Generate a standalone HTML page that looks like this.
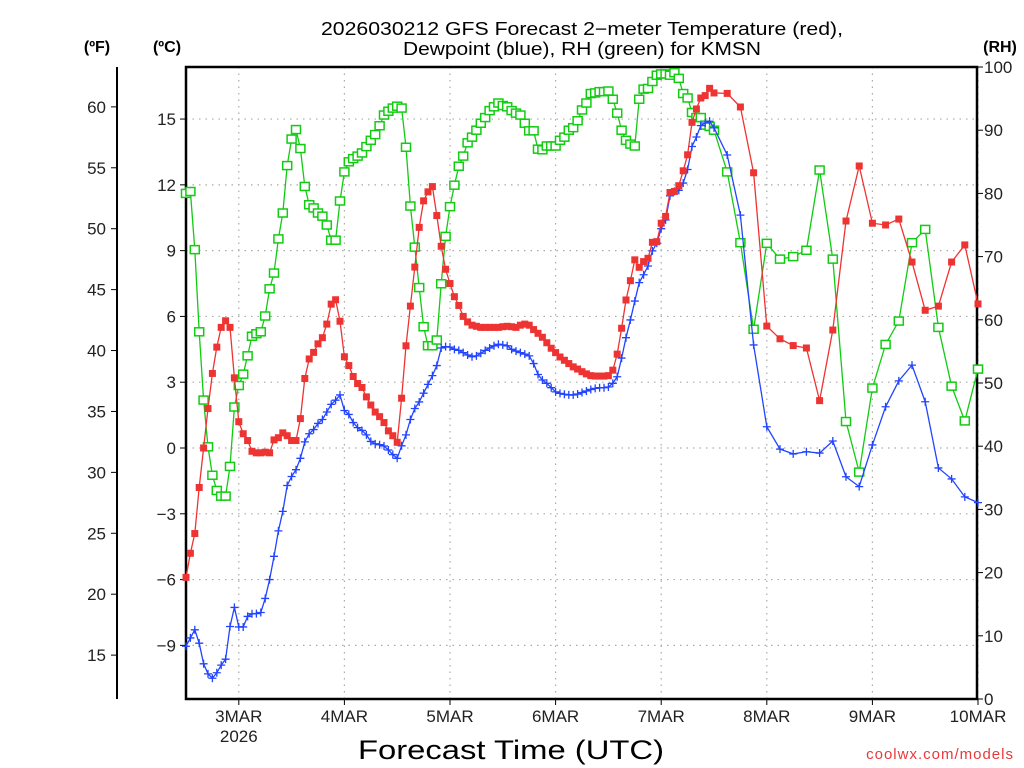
<!DOCTYPE html>
<html><head><meta charset="utf-8"><title>GFS Forecast KMSN</title>
<style>
html,body{margin:0;padding:0;background:#fff;}
svg{display:block;font-family:"Liberation Sans",sans-serif;}
</style></head>
<body>
<svg id="chart" width="1024" height="768" viewBox="0 0 1024 768" xmlns="http://www.w3.org/2000/svg">
<rect width="1024" height="768" fill="#fff"/>
<g font-size="18" text-anchor="middle" fill="#000">
<text x="582" y="35" textLength="522" lengthAdjust="spacingAndGlyphs">2026030212 GFS Forecast 2−meter Temperature (red),</text>
<text x="582" y="55" textLength="358" lengthAdjust="spacingAndGlyphs">Dewpoint (blue), RH (green) for KMSN</text>
</g>
<text x="97" y="52" font-size="16" font-weight="bold" text-anchor="middle">(ºF)</text>
<text x="167" y="52" font-size="16" font-weight="bold" text-anchor="middle">(ºC)</text>
<text x="1000" y="52" font-size="16" font-weight="bold" text-anchor="middle">(RH)</text>
<g id="grid"></g>
<g id="axes"></g>
<g id="series"></g>
<text x="511" y="759" font-size="27" text-anchor="middle" textLength="306" lengthAdjust="spacingAndGlyphs">Forecast Time (UTC)</text>
<text x="1014" y="759" font-size="15" fill="#e8393c" text-anchor="end" letter-spacing="1">coolwx.com/models</text>
</svg>
<script>
// hourly 0..120 then 3-hourly to 180 (hours from 2026-03-02 12Z)
const tempC = [-5.9,-4.8,-3.9,-1.8,0.0,1.8,3.4,4.6,5.5,5.8,5.5,3.2,1.2,0.65,0.34,-0.15,-0.22,-0.22,-0.19,-0.22,0.37,0.47,0.69,0.56,0.34,0.34,1.34,3.17,4.06,4.36,4.75,5.03,5.65,6.56,6.76,5.78,4.16,3.76,3.26,2.94,2.76,2.33,1.96,1.64,1.43,1.16,0.78,0.56,0.26,2.27,4.66,6.47,8.25,10.06,11.27,11.68,11.92,10.6,9.2,8.15,7.5,6.9,6.5,6.0,5.75,5.6,5.55,5.5,5.5,5.5,5.5,5.5,5.53,5.55,5.53,5.5,5.6,5.65,5.6,5.4,5.23,5.05,4.8,4.55,4.35,4.15,4.0,3.85,3.7,3.6,3.48,3.38,3.3,3.28,3.28,3.28,3.3,3.55,4.28,5.46,6.75,7.63,8.58,8.24,8.5,8.65,9.38,9.41,10.25,10.56,11.65,11.7,11.96,12.64,13.37,14.85,15.46,15.96,16.07,16.4,16.19,
16.17,15.55,12.55,5.56,4.98,4.67,4.56,2.16,5.38,10.35,12.86,10.25,10.17,10.44,8.48,6.28,6.47,8.48,9.26,6.57];
const dewC = [-9.04,-8.66,-8.29,-8.9,-9.84,-10.3,-10.5,-10.25,-9.9,-9.63,-8.14,-7.27,-8.16,-8.16,-7.68,-7.56,-7.55,-7.5,-6.86,-6.0,-4.94,-3.78,-2.89,-1.71,-1.3,-0.99,-0.47,0.28,0.65,0.84,1.12,1.3,1.64,1.99,2.18,2.42,1.71,1.53,1.16,0.93,0.8,0.6,0.3,0.19,0.15,0.09,-0.09,-0.3,-0.47,0.1,0.6,1.3,1.8,2.1,2.5,2.9,3.3,3.76,4.56,4.62,4.6,4.5,4.45,4.35,4.24,4.16,4.2,4.32,4.45,4.56,4.66,4.73,4.7,4.66,4.5,4.42,4.35,4.28,4.2,3.85,3.35,3.1,2.95,2.75,2.56,2.49,2.45,2.42,2.42,2.46,2.53,2.6,2.67,2.72,2.75,2.75,2.78,2.95,3.25,4.1,5.03,5.84,6.7,7.54,7.9,8.3,8.99,9.34,10.0,10.4,11.5,11.7,11.75,12.08,12.7,13.75,14.18,14.7,14.82,14.9,14.6,
13.36,10.62,4.7,0.97,-0.05,-0.27,-0.17,-0.23,0.32,-1.31,-1.76,0.14,1.88,3.06,3.78,2.11,-0.91,-1.41,-2.23,-2.49];
const rh = [80.0,80.3,71.1,58.1,47.3,39.9,35.4,33.0,32.1,32.1,36.8,46.2,49.6,51.4,54.3,57.4,57.8,58.1,60.6,64.9,67.4,72.8,76.9,84.4,88.6,90.1,87.1,81.1,78.2,77.7,76.9,76.4,75.0,72.6,72.6,78.8,83.4,85.0,85.5,85.9,86.4,87.4,88.4,89.3,90.7,92.4,93.0,93.5,93.8,93.5,87.3,78.0,71.5,65.1,58.9,55.9,55.9,56.8,65.7,73.2,77.9,81.3,84.3,85.9,88.0,88.9,90.0,91.1,92.0,93.1,93.7,94.3,93.9,93.7,93.1,92.7,92.4,91.1,89.9,89.9,87.0,86.9,87.5,87.5,87.5,88.4,88.9,90.0,90.4,91.5,93.2,94.3,95.8,95.9,96.1,96.1,96.2,94.9,92.7,90.0,88.4,87.8,87.5,94.9,96.5,96.6,97.7,98.7,98.9,98.9,98.7,99.1,98.2,95.8,95.1,92.8,92.0,92.0,90.8,90.6,90.0,
83.4,72.2,58.5,72.1,69.6,70.0,71.0,83.7,69.6,43.9,35.9,49.2,56.1,59.8,72.2,74.3,58.8,49.5,44.0,52.2];
const celsiusTicks = [-9,-6,-3,0,3,6,9,12,15];
const fahrenheitTicks = [15,20,25,30,35,40,45,50,55,60];
const rhTicks = [0,10,20,30,40,50,60,70,80,90,100];
const dayLabels = ["3MAR","4MAR","5MAR","6MAR","7MAR","8MAR","9MAR","10MAR"];
const dayHours = [12,36,60,84,108,132,156,180];

const hours = [];
for (let h = 0; h <= 120; h++) hours.push(h);
for (let h = 123; h <= 180; h += 3) hours.push(h);

const L=186,R=977,T=67,B=699;
const xS = h => L + h*4.4;
const yC = c => 448 - c*21.93;
const yF = f => yC((f-32)*5/9);
const yRH = r => B - r*(B-T)/100;
const NS="http://www.w3.org/2000/svg";
function mk(tag, attrs, parent){const e=document.createElementNS(NS,tag);for(const k in attrs)e.setAttribute(k,attrs[k]);parent.appendChild(e);return e;}
const grid=document.getElementById('grid'), axes=document.getElementById('axes'), ser=document.getElementById('series');

celsiusTicks.forEach(c=>{
  const y=yC(c);
  const g=mk('line',{x1:L,x2:R,y1:y,y2:y,stroke:'#aaa','stroke-dasharray':'1.5 5','stroke-width':1.2},grid);
  
  
  mk('line',{x1:L-6,x2:L,y1:y,y2:y,stroke:'#000','stroke-width':1},axes);
  const t=mk('text',{x:L-10,y:y+6,'font-size':17,'text-anchor':'end',fill:'#222'},axes);
  t.textContent = c<0 ? '−'+Math.abs(c) : String(c);
  
  
});
dayHours.forEach((h,i)=>{
  const x=xS(h);
  const g=mk('line',{x1:x,x2:x,y1:T,y2:B,stroke:'#aaa','stroke-dasharray':'1.5 5','stroke-width':1.2},grid);
  
  
  mk('line',{x1:x,x2:x,y1:B,y2:B+6,stroke:'#000','stroke-width':1},axes);
  const t=mk('text',{x:x,y:722,'font-size':17,'text-anchor':'middle',fill:'#222'},axes);
  t.textContent=dayLabels[i];
  
  
});
const yr=mk('text',{x:xS(12),y:742,'font-size':17,'text-anchor':'middle',fill:'#222'},axes);
yr.textContent='2026';



fahrenheitTicks.forEach(f=>{
  const y=yF(f);
  mk('line',{x1:111,x2:117,y1:y,y2:y,stroke:'#000','stroke-width':1},axes);
  const t=mk('text',{x:106,y:y+6,'font-size':17,'text-anchor':'end',fill:'#222'},axes);
  t.textContent=String(f);
  
  
});
rhTicks.forEach(r=>{
  const y=yRH(r);
  mk('line',{x1:R,x2:R+6,y1:y,y2:y,stroke:'#000','stroke-width':1},axes);
  const t=mk('text',{x:R+7,y:y+6,'font-size':17,'text-anchor':'start',fill:'#222'},axes);
  t.textContent=String(r);
  
  
});
const fl=mk('line',{x1:117,x2:117,y1:T,y2:B,stroke:'#000','stroke-width':2},axes);


const frame=mk('rect',{x:L,y:T,width:R-L,height:B-T,fill:'none',stroke:'#000','stroke-width':2.5},axes);



function series(vals, yf, color, kind, name){
  const pts=vals.map((v,i)=>[xS(hours[i]), yf(v)]);
  const pl=mk('polyline',{points:pts.map(p=>p.join(',')).join(' '),fill:'none',stroke:color,'stroke-width':1.3},ser);
  
  
  pts.forEach(p=>{
    let m;
    if(kind==='fill'){ m=mk('rect',{x:p[0]-3.5,y:p[1]-3.5,width:7,height:7,fill:color},ser); }
    else if(kind==='open'){ m=mk('rect',{x:p[0]-4.5,y:p[1]-4,width:9,height:8,fill:'#fff',stroke:color,'stroke-width':1.5},ser); }
    else { m=mk('path',{d:`M${p[0]-4},${p[1]}h8M${p[0]},${p[1]-4}v8`,stroke:color,'stroke-width':1.3,fill:'none'},ser); }
    
    
  });
}
series(rh, yRH, '#11cc11', 'open', 'rh');
series(dewC, yC, '#2244ff', 'plus', 'dewpoint');
series(tempC, yC, '#ee3333', 'fill', 'temperature');
</script>
</body></html>
